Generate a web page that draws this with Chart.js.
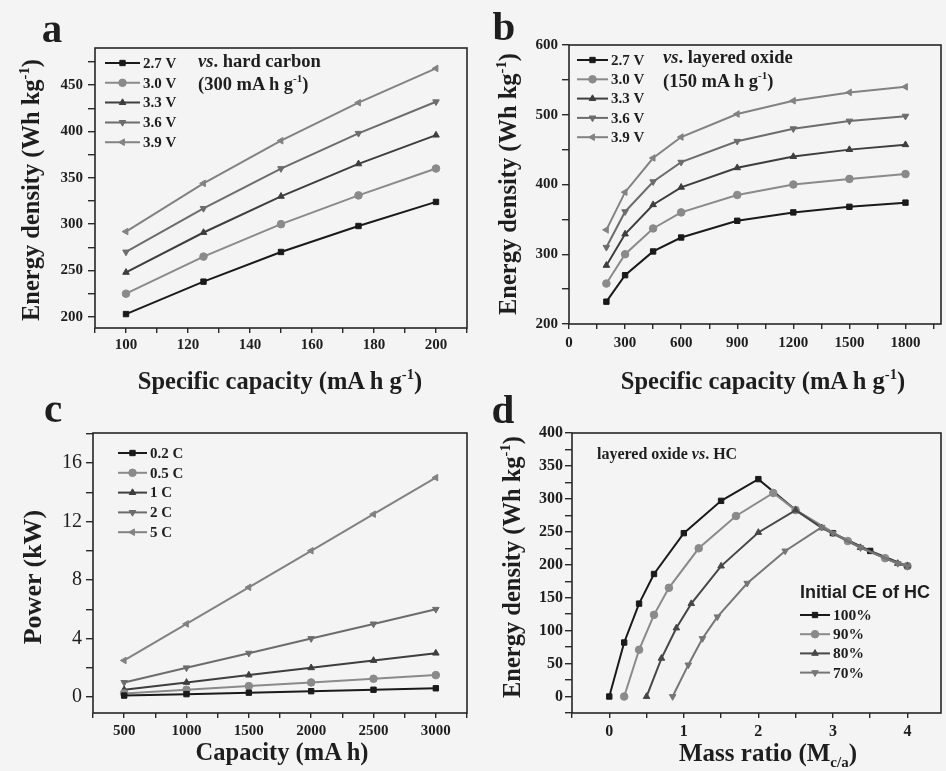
<!DOCTYPE html>
<html>
<head>
<meta charset="utf-8">
<title>Cell energy density and power</title>
<script src="https://cdn.jsdelivr.net/npm/chart.js@4.4.1/dist/chart.umd.min.js"></script>
<style>
  html, body { margin: 0; padding: 0; }
  body {
    width: 946px; height: 771px; position: relative; overflow: hidden;
    background: #f4f4f4; color: #1e1e1e;
    font-family: 'Liberation Serif', 'Times New Roman', serif;
  }
  canvas { position: absolute; }
  .txt { position: absolute; font-weight: bold; white-space: nowrap; line-height: 1; }
  .ctr { transform: translate(-50%, -50%); }
  .rot { transform: translate(-50%, -50%) rotate(-90deg); }
  .letter { font-size: 41px; }
  .title { font-size: 24.5px; }
  sup { font-size: 0.6em; line-height: 0; position: relative; top: -0.05em; vertical-align: super; }
  sub { font-size: 0.6em; line-height: 0; vertical-align: sub; }
  .note { font-size: 18.5px; }
  .sans { font-family: 'Liberation Sans', Arial, sans-serif; }
</style>
</head>
<body>
<canvas id="chartA" width="472" height="368" style="left:0;top:0"></canvas>
<canvas id="chartB" width="473" height="368" style="left:473px;top:0"></canvas>
<canvas id="chartC" width="472" height="362" style="left:0;top:388px"></canvas>
<canvas id="chartD" width="473" height="362" style="left:473px;top:388px"></canvas>

<div class="txt letter ctr" style="left:52px;top:28px">a</div>
<div class="txt letter ctr" style="left:504px;top:26px">b</div>
<div class="txt letter ctr" style="left:53px;top:408px">c</div>
<div class="txt letter ctr" style="left:503px;top:409px">d</div>

<div class="txt title rot" style="left:31px;top:190px">Energy density (Wh kg<sup>-1</sup>)</div>
<div class="txt title ctr" style="left:280px;top:381px">Specific capacity (mA h g<sup>-1</sup>)</div>
<div class="txt title rot" style="left:508px;top:184px">Energy density (Wh kg<sup>-1</sup>)</div>
<div class="txt title ctr" style="left:763px;top:381px">Specific capacity (mA h g<sup>-1</sup>)</div>
<div class="txt title rot" style="left:33px;top:577px;font-size:26px">Power (kW)</div>
<div class="txt title ctr" style="left:282px;top:752px">Capacity (mA h)</div>
<div class="txt title rot" style="left:512px;top:567px">Energy density (Wh kg<sup>-1</sup>)</div>
<div class="txt title ctr" style="left:768px;top:752px;font-size:25px">Mass ratio (M<sub>c/a</sub>)</div>

<div class="txt note" style="left:198px;top:52px"><i>vs</i>. hard carbon</div>
<div class="txt note" style="left:198px;top:75px">(300 mA h g<sup>-1</sup>)</div>
<div class="txt note" style="left:663px;top:48px"><i>vs</i>. layered oxide</div>
<div class="txt note" style="left:663px;top:72px">(150 mA h g<sup>-1</sup>)</div>
<div class="txt" style="left:597px;top:446px;font-size:16px">layered oxide <i>vs</i>. HC</div>
<div class="txt sans" style="left:800px;top:583px;font-size:18px">Initial CE of HC</div>

<script>
// (a) energy density vs. cathode specific capacity, hard carbon anode at 300 mA h g-1
const aCapacity = [100, 125, 150, 175, 200];
const aLabels = ['2.7 V', '3.0 V', '3.3 V', '3.6 V', '3.9 V'];
const aEnergy27 = [203, 238, 270, 298, 324];
const aEnergy30 = [225, 265, 300, 331, 360];
const aEnergy33 = [248, 291, 330, 365, 396];
const aEnergy36 = [270, 317, 360, 398, 432];
const aEnergy39 = [292, 344, 390, 431, 468];
const aXTicks = [100, 120, 140, 160, 180, 200];
const aYTicks = [200, 250, 300, 350, 400, 450];

// (b) energy density vs. anode specific capacity, layered oxide cathode at 150 mA h g-1
const bCapacity = [200, 300, 450, 600, 900, 1200, 1500, 1800];
const bLabels = ['2.7 V', '3.0 V', '3.3 V', '3.6 V', '3.9 V'];
const bEnergy27 = [232, 270, 304, 324, 348, 360, 368, 374];
const bEnergy30 = [258, 300, 337, 360, 385, 400, 408, 415];
const bEnergy33 = [284, 329, 371, 396, 424, 440, 450, 457];
const bEnergy36 = [310, 361, 404, 432, 462, 480, 491, 498];
const bEnergy39 = [335, 389, 438, 468, 501, 520, 532, 540];
const bXTicks = [0, 300, 600, 900, 1200, 1500, 1800];
const bYTicks = [200, 300, 400, 500, 600];

// (c) power vs. cell capacity at several C-rates
const cCapacity = [500, 1000, 1500, 2000, 2500, 3000];
const cLabels = ['0.2 C', '0.5 C', '1 C', '2 C', '5 C'];
const cPower02 = [0.1, 0.2, 0.3, 0.4, 0.5, 0.6];
const cPower05 = [0.25, 0.5, 0.75, 1.0, 1.25, 1.5];
const cPower1 = [0.5, 1.0, 1.5, 2.0, 2.5, 3.0];
const cPower2 = [1.0, 2.0, 3.0, 4.0, 5.0, 6.0];
const cPower5 = [2.5, 5.0, 7.5, 10.0, 12.5, 15.0];
const cXTicks = [500, 1000, 1500, 2000, 2500, 3000];
const cYTicks = [0, 4, 8, 12, 16];

// (d) energy density vs. cathode/anode mass ratio for several initial CE of HC
const dLabels = ['100%', '90%', '80%', '70%'];
const dRatio100 = [0, 0.2, 0.4, 0.6, 1.0, 1.5, 2.0, 2.5, 3.0, 3.5, 4.0];
const dEnergy100 = [0, 82, 141, 186, 248, 297, 330, 283, 248, 221, 198];
const dRatio90 = [0.2, 0.4, 0.6, 0.8, 1.2, 1.7, 2.2, 2.5, 3.2, 3.7, 4.0];
const dEnergy90 = [0, 71, 124, 165, 225, 274, 309, 283, 236, 210, 198];
const dRatio80 = [0.5, 0.7, 0.9, 1.1, 1.5, 2.0, 2.5, 2.85, 3.37, 3.87, 4.0];
const dEnergy80 = [0, 58, 104, 141, 198, 249, 283, 256, 226, 202, 198];
const dRatio70 = [0.85, 1.06, 1.25, 1.45, 1.85, 2.36, 2.85, 3.0, 3.37, 3.87, 4.0];
const dEnergy70 = [0, 48, 88, 121, 172, 221, 257, 248, 226, 202, 198];
const dXTicks = [0, 1, 2, 3, 4];
const dYTicks = [0, 50, 100, 150, 200, 250, 300, 350, 400];

const SERIF = "'Liberation Serif', 'Times New Roman', serif";
const INK = '#1e1e1e';
const greys = ['#1a1a1a', '#8a8a8a', '#3e3e3e', '#6c6c6c', '#828282'];
const greysD = ['#1a1a1a', '#8a8a8a', '#474747', '#767676'];
const markers = ['rect', 'circle', 'triangle', 'triangle', 'triangle'];
const turns = [0, 0, 0, 180, -90];

function pts(xs, ys) {
  return xs.map((x, i) => ({ x: x, y: ys[i] }));
}

function series(label, xs, ys, i, colors) {
  return {
    label: label,
    data: pts(xs, ys),
    borderColor: colors[i],
    backgroundColor: colors[i],
    pointBackgroundColor: colors[i],
    pointBorderColor: colors[i],
    borderWidth: 2,
    pointRadius: 3.8,
    pointBorderWidth: 1,
    pointStyle: markers[i],
    pointRotation: turns[i],
    tension: 0
  };
}

function axis(min, max, step, labelled, font, pad, tick) {
  return {
    type: 'linear',
    min: min,
    max: max,
    border: { display: false },
    grid: { drawOnChartArea: false, drawTicks: true, tickLength: tick, color: '#2a2a2a', lineWidth: 1.4 },
    ticks: {
      stepSize: step,
      autoSkip: false,
      includeBounds: false,
      maxRotation: 0,
      minRotation: 0,
      padding: pad,
      color: INK,
      font: font,
      callback: v => labelled.some(t => Math.abs(t - v) < 1e-6) ? String(Math.round(v * 100) / 100) : ''
    }
  };
}

// frame around the plot area
const framePlugin = {
  id: 'frame',
  afterDraw(chart) {
    const { ctx, chartArea: a } = chart;
    ctx.save();
    ctx.strokeStyle = '#262626';
    ctx.lineWidth = 1.6;
    ctx.strokeRect(a.left, a.top, a.right - a.left, a.bottom - a.top);
    ctx.restore();
  }
};

// legend drawn inside the plot: short line, marker, label
const keyPlugin = {
  id: 'key',
  afterDatasetsDraw(chart, args, opts) {
    if (!opts || opts.x === undefined) return;
    const ctx = chart.ctx;
    chart.data.datasets.forEach((ds, i) => {
      const y = opts.y + i * opts.gap;
      ctx.save();
      ctx.strokeStyle = ds.borderColor;
      ctx.lineWidth = ds.borderWidth;
      ctx.beginPath();
      ctx.moveTo(opts.x, y);
      ctx.lineTo(opts.x + opts.len, y);
      ctx.stroke();
      ctx.fillStyle = ds.pointBackgroundColor;
      ctx.lineWidth = 1;
      Chart.helpers.drawPoint(ctx, {
        pointStyle: ds.pointStyle, rotation: ds.pointRotation, radius: ds.pointRadius, borderWidth: 1
      }, opts.x + opts.len / 2, y);
      ctx.fillStyle = INK;
      ctx.font = opts.font;
      ctx.textBaseline = 'middle';
      ctx.fillText(ds.label, opts.x + opts.len + 3, y + 1);
      ctx.restore();
    });
  }
};

function panel(id, canvasBox, plot, xAxis, yAxis, datasets, key) {
  const [cl, ct, cw, ch] = canvasBox;
  const [pl, pt, pr, pb] = plot;
  xAxis.afterFit = s => { s.height = ct + ch - pb; };
  yAxis.afterFit = s => { s.width = pl - cl; };
  key.x -= cl;
  key.y -= ct;
  return new Chart(document.getElementById(id), {
    type: 'line',
    data: { datasets: datasets },
    options: {
      responsive: false,
      devicePixelRatio: 1,
      animation: false,
      layout: { padding: { left: 0, top: pt - ct, right: cl + cw - pr, bottom: 0 } },
      scales: { x: xAxis, y: yAxis },
      plugins: { legend: { display: false }, tooltip: { enabled: false }, key: key }
    },
    plugins: [framePlugin, keyPlugin]
  });
}

const tickFont = { family: SERIF, size: 15, weight: 'bold' };
const keyFont = 'bold 15px ' + SERIF;

panel('chartA', [0, 0, 472, 368], [95, 48, 468, 328],
  axis(90, 210, 10, aXTicks, tickFont, 3, 5),
  axis(188, 490, 25, aYTicks, tickFont, 5, 7),
  [aEnergy27, aEnergy30, aEnergy33, aEnergy36, aEnergy39].map((ys, i) => series(aLabels[i], aCapacity, ys, i, greys)),
  { x: 105, y: 63, gap: 19.8, len: 35, font: keyFont });

panel('chartB', [473, 0, 473, 368], [569, 45, 944, 324],
  axis(0, 1990, 150, bXTicks, tickFont, 5, 5),
  axis(200, 600, 50, bYTicks, tickFont, 4, 7),
  [bEnergy27, bEnergy30, bEnergy33, bEnergy36, bEnergy39].map((ys, i) => series(bLabels[i], bCapacity, ys, i, greys)),
  { x: 577, y: 60, gap: 19.3, len: 31, font: keyFont });

panel('chartC', [0, 388, 472, 362], [93, 433, 467, 713],
  axis(250, 3250, 250, cXTicks, tickFont, 4, 5),
  axis(-1.09, 18.05, 2, cYTicks, { family: SERIF, size: 20, weight: 'normal' }, 4, 7),
  [cPower02, cPower05, cPower1, cPower2, cPower5].map((ys, i) => series(cLabels[i], cCapacity, ys, i, greys)),
  { x: 118, y: 453, gap: 19.8, len: 29, font: keyFont });

const dSets = [
  series(dLabels[0], dRatio100, dEnergy100, 0, greysD),
  series(dLabels[1], dRatio90, dEnergy90, 1, greysD),
  series(dLabels[2], dRatio80, dEnergy80, 2, greysD),
  series(dLabels[3], dRatio70, dEnergy70, 3, greysD)
];
// lower curves sit on top where the branches merge
dSets.forEach((ds, i) => { ds.order = 4 - i; });

panel('chartD', [473, 388, 473, 362], [572, 433, 944, 713],
  axis(-0.5, 4.45, 0.5, dXTicks, { family: SERIF, size: 16, weight: 'bold' }, 4, 5),
  axis(-25, 400, 25, dYTicks, { family: SERIF, size: 16, weight: 'bold' }, 2, 7),
  dSets,
  { x: 800, y: 615, gap: 19.2, len: 30, font: 'bold 15.5px ' + SERIF });
</script>
</body>
</html>
